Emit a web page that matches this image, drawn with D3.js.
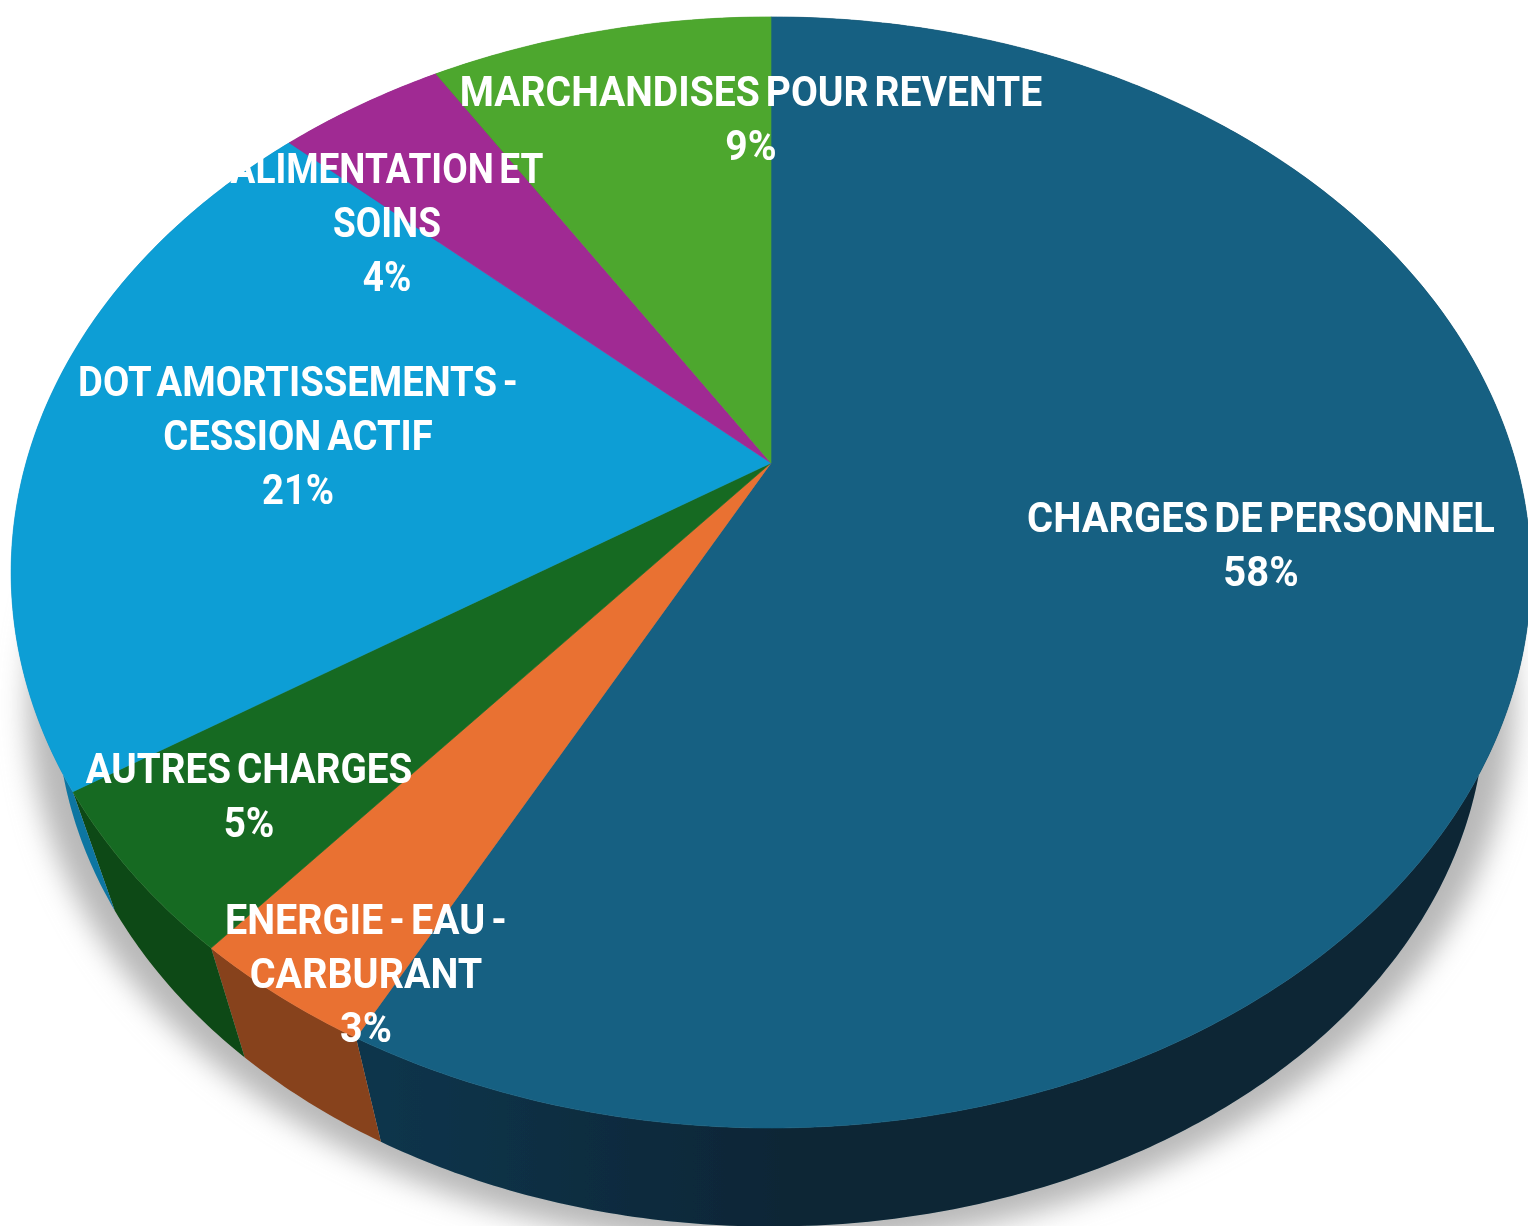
<!DOCTYPE html>
<html lang="fr">
<head>
<meta charset="utf-8">
<title>Charges</title>
<script src="https://d3js.org/d3.v7.min.js"></script>
<style>
	html, body { margin: 0; padding: 0; background: #fff; }
	svg { display: block; }
	text { font-family: Roboto, "Liberation Sans", sans-serif; font-weight: 700; fill: #fff; }
</style>
</head>
<body>
<script type="text/javascript">

// values (angles of the slices), the printed labels are rounded
var categories = ["CHARGES DE PERSONNEL", "ENERGIE - EAU - CARBURANT", "AUTRES CHARGES", "DOT AMORTISSEMENTS - CESSION ACTIF", "ALIMENTATION ET SOINS", "MARCHANDISES POUR REVENTE"];
var values = [57.6, 3.4, 4.75, 21.15, 4.3, 8.8];
var percentLabels = ["58%", "3%", "5%", "21%", "4%", "9%"];
var labelLines = [
	["CHARGES DE PERSONNEL"],
	["ENERGIE - EAU -", "CARBURANT"],
	["AUTRES CHARGES"],
	["DOT AMORTISSEMENTS -", "CESSION ACTIF"],
	["ALIMENTATION ET", "SOINS"],
	["MARCHANDISES POUR REVENTE"]
];
var topColors = ["#156082", "#E97132", "#196B24", "#0F9ED5", "#A02B93", "#4EA72E"];
var wallColors = ["#08283a", "#87421c", "#114814", "#0c76a2", "#6e1e65", "#35741f"];

var w = 1528;
var h = 1226;

// where each label block sits (centre x, y of first line) and how much it is narrowed
var labelPos = [[1261, 518], [366, 920], [249, 769], [298, 382], [387, 169], [751, 92]];
var labelNarrow = [0.95, 0.94, 0.92, 0.91, 0.88, 0.93];
var lineHeight = 54;

// perspective of the pie disc
var cx = 771, cy = 463;
var k = 0.197, R = 745, S = 534;
// the bottom rim shrinks towards a vanishing point under the pie
var vx = 771, vy = 2770, rimScale = 0.94;

var project = function (a) {
	var X = Math.sin(a), Y = -Math.cos(a);
	var d = 1 - k * Y;
	return [cx + R * X / d, cy + S * Y / d];
};
var toBottom = function (p, s) {
	return [vx + s * (p[0] - vx), vy + s * (p[1] - vy)];
};
var arcPoints = function (a0, a1) {
	var n = Math.max(2, Math.ceil((a1 - a0) / 0.01));
	return d3.range(n + 1).map(function (i) { return project(a0 + (a1 - a0) * i / n); });
};

var svg = d3.select("body").append("svg").attr("width", w).attr("height", h);
var defs = svg.append("defs");

defs.append("filter").attr("id", "shadowBlur")
	.attr("x", "-10%").attr("y", "-10%").attr("width", "120%").attr("height", "120%")
	.append("feGaussianBlur").attr("stdDeviation", 14);
defs.append("filter").attr("id", "soft")
	.attr("x", "-5%").attr("y", "-5%").attr("width", "110%").attr("height", "110%")
	.append("feGaussianBlur").attr("stdDeviation", 0.6);

var blueWall = defs.append("linearGradient").attr("id", "blueWall")
	.attr("gradientUnits", "userSpaceOnUse")
	.attr("x1", 370).attr("x2", 800).attr("y1", 0).attr("y2", 0);
blueWall.append("stop").attr("offset", "0%").attr("stop-color", "#0a354c");
blueWall.append("stop").attr("offset", "100%").attr("stop-color", "#082535");

var line = d3.line();
var pie = d3.pie().sort(null).value(function (d) { return d; });
var slices = pie(values);
var chart = svg.append("g").attr("filter", "url(#soft)");

// soft shadow under the disc, a little wider than the bottom rim
var ring = arcPoints(0, 2 * Math.PI);
var shadowGrow = 1.04;
var rimMidY = vy + rimScale * (572 - vy);
svg.insert("path", "g")
	.attr("d", line(ring.map(function (p) {
		var q = toBottom(p, rimScale);
		return [vx + shadowGrow * (q[0] - vx), rimMidY + shadowGrow * (q[1] - rimMidY)];
	})) + "Z")
	.attr("fill", "#b8b8b8")
	.attr("filter", "url(#shadowBlur)");

// side walls
chart.selectAll("path.wall")
	.data(slices)
	.enter().append("path")
	.attr("class", "wall")
	.attr("d", function (d) {
		var top = arcPoints(d.startAngle, d.endAngle);
		var bottom = top.map(function (p) { return toBottom(p, rimScale); }).reverse();
		return line(top.concat(bottom)) + "Z";
	})
	.attr("fill", function (d, i) { return i == 0 ? "url(#blueWall)" : wallColors[i]; });

// top faces
chart.selectAll("path.face")
	.data(slices)
	.enter().append("path")
	.attr("class", "face")
	.attr("d", function (d) {
		return line([[cx, cy]].concat(arcPoints(d.startAngle, d.endAngle))) + "Z";
	})
	.attr("fill", function (d, i) { return topColors[i]; })
	.attr("stroke", function (d, i) { return topColors[i]; })
	.attr("stroke-width", 0.6);

// labels, one text per line
labelLines.forEach(function (lines, i) {
	lines.concat([percentLabels[i]]).forEach(function (t, j) {
		chart.append("text")
			.attr("transform", "translate(" + labelPos[i][0] + "," + (labelPos[i][1] + j * lineHeight) + ") scale(" + labelNarrow[i] + ",1)")
			.attr("text-anchor", "middle")
			.attr("dominant-baseline", "central")
			.attr("font-size", 42)
			.attr("word-spacing", -4)
			.text(t);
	});
});

</script>
</body>
</html>
